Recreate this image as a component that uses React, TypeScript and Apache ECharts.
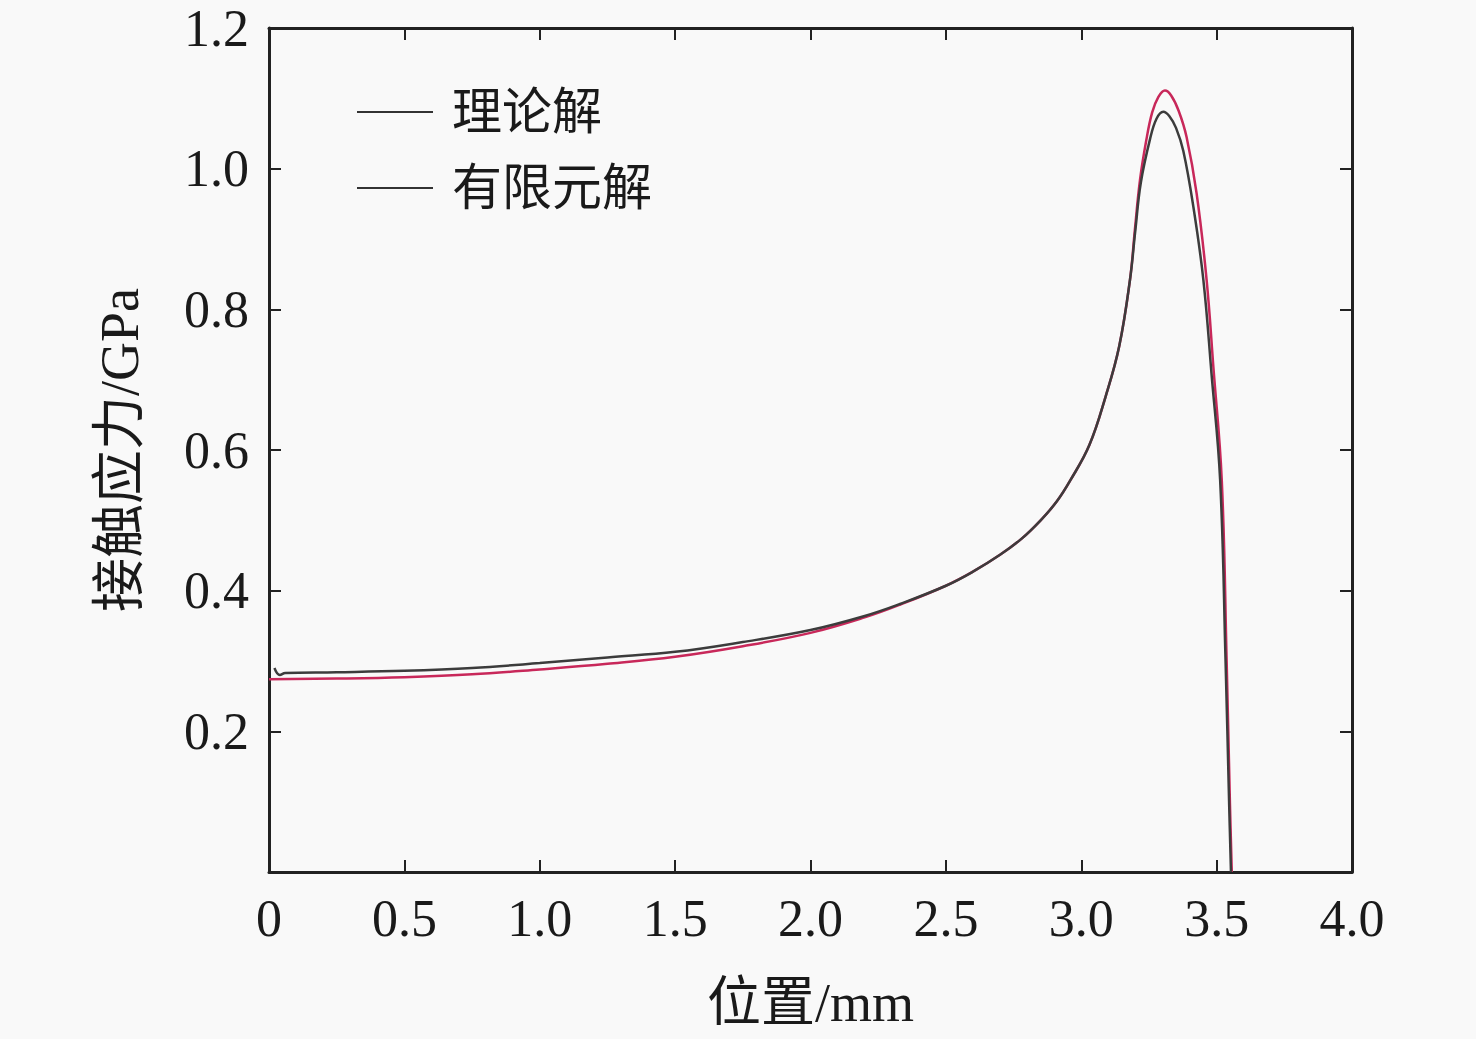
import React, { useEffect, useRef } from "react";
import * as echarts from "echarts";

const seriesNames = ["理论解", "有限元解"];

const theoryX = [0, 0.25, 0.5, 0.75, 1.0, 1.25, 1.5, 1.75, 2.0, 2.2, 2.33, 2.5, 2.6, 2.7, 2.78, 2.85, 2.91, 2.96, 3.03, 3.09, 3.14, 3.18, 3.198, 3.217, 3.24, 3.262, 3.285, 3.309, 3.332, 3.36, 3.389, 3.426, 3.463, 3.488, 3.519, 3.537, 3.549, 3.556];
const theoryY = [0.274, 0.275, 0.277, 0.281, 0.288, 0.296, 0.306, 0.321, 0.340, 0.362, 0.380, 0.407, 0.427, 0.451, 0.474, 0.500, 0.527, 0.557, 0.607, 0.676, 0.747, 0.842, 0.913, 0.984, 1.040, 1.080, 1.102, 1.111, 1.104, 1.082, 1.045, 0.965, 0.842, 0.718, 0.557, 0.300, 0.100, 0];

const feX = [0.02, 0.04, 0.06, 0.25, 0.5, 0.75, 1.0, 1.25, 1.5, 1.75, 2.0, 2.2, 2.33, 2.5, 2.6, 2.7, 2.78, 2.85, 2.91, 2.96, 3.03, 3.09, 3.14, 3.18, 3.2, 3.22, 3.254, 3.278, 3.303, 3.325, 3.35, 3.377, 3.414, 3.451, 3.481, 3.513, 3.533, 3.546, 3.553];
const feY = [0.290, 0.280, 0.283, 0.284, 0.286, 0.290, 0.297, 0.305, 0.313, 0.327, 0.344, 0.364, 0.381, 0.407, 0.427, 0.451, 0.474, 0.500, 0.527, 0.557, 0.607, 0.676, 0.747, 0.842, 0.913, 0.980, 1.042, 1.071, 1.081, 1.075, 1.058, 1.025, 0.946, 0.842, 0.709, 0.557, 0.300, 0.100, 0];

const xMin = 0, xMax = 4, xStep = 0.5;
const yMin = 0, yMax = 1.2, yStep = 0.2;

const serif = "'Liberation Serif', 'Noto Sans CJK SC', serif";
const axisColor = "#222";
const textColor = "#1a1a1a";

export default function App() {
  const ref = useRef<HTMLDivElement>(null);
  useEffect(() => {
    if (!ref.current) return;
    const chart = echarts.init(ref.current, undefined, { renderer: "svg" });
    const zip = (xs: number[], ys: number[]) => xs.map((x, i) => [x, ys[i]]);
    const tickCommon = { inside: true, length: 12, lineStyle: { color: axisColor, width: 2 } };
    const lineCommon = { show: true, onZero: false, lineStyle: { color: axisColor, width: 3 } };
    chart.setOption({
      animation: false,
      backgroundColor: "#f9f9f9",
      grid: { left: 269, right: 124, top: 28, bottom: 167, containLabel: false },
      legend: {
        orient: "vertical",
        left: 352,
        top: 82,
        icon: "rect",
        itemWidth: 76,
        itemHeight: 2,
        itemGap: 26,
        itemStyle: { color: "#333" },
        textStyle: {
          fontFamily: serif, fontSize: 50, lineHeight: 50, color: textColor,
          padding: [0, 0, 0, 14],
        },
        data: seriesNames,
      },
      xAxis: [
        {
          type: "value", min: xMin, max: xMax, interval: xStep, position: "bottom",
          axisLine: lineCommon,
          axisTick: tickCommon,
          splitLine: { show: false },
          axisLabel: {
            fontFamily: serif, fontSize: 52, color: textColor, margin: 20,
            formatter: (v: number) => (v === 0 ? "0" : v.toFixed(1)),
          },
          name: "位置/mm", nameLocation: "middle", nameGap: 104,
          nameTextStyle: { fontFamily: serif, fontSize: 54, color: textColor },
        },
        {
          type: "value", min: xMin, max: xMax, interval: xStep, position: "top",
          axisLine: lineCommon,
          axisTick: tickCommon, axisLabel: { show: false }, splitLine: { show: false },
        },
      ],
      yAxis: [
        {
          type: "value", min: yMin, max: yMax, interval: yStep, position: "left",
          axisLine: lineCommon,
          axisTick: tickCommon,
          splitLine: { show: false },
          axisLabel: {
            fontFamily: serif, fontSize: 52, color: textColor, margin: 20,
            formatter: (v: number) => (v === 0 ? "" : v.toFixed(1)),
          },
          name: "接触应力/GPa", nameLocation: "middle", nameGap: 122, nameRotate: 90,
          nameTextStyle: { fontFamily: serif, fontSize: 54, color: textColor },
        },
        {
          type: "value", min: yMin, max: yMax, interval: yStep, position: "right",
          axisLine: lineCommon,
          axisTick: tickCommon, axisLabel: { show: false }, splitLine: { show: false },
        },
      ],
      series: [
        {
          name: seriesNames[0], type: "line", xAxisIndex: 0, yAxisIndex: 0,
          data: zip(theoryX, theoryY), symbol: "none", smooth: 0.4,
          lineStyle: { color: "#c8285a", width: 2.5 }, itemStyle: { color: "#c8285a" },
          z: 2,
        },
        {
          name: seriesNames[1], type: "line", xAxisIndex: 0, yAxisIndex: 0,
          data: zip(feX, feY), symbol: "none", smooth: 0.4,
          lineStyle: { color: "#3c3c3c", width: 2.5 }, itemStyle: { color: "#3c3c3c" },
          z: 3,
        },
      ],
    });
    return () => chart.dispose();
  }, []);
  return (
    <div
      ref={ref}
      style={{ position: "fixed", left: 0, top: 0, width: 1476, height: 1039 }}
    />
  );
}
